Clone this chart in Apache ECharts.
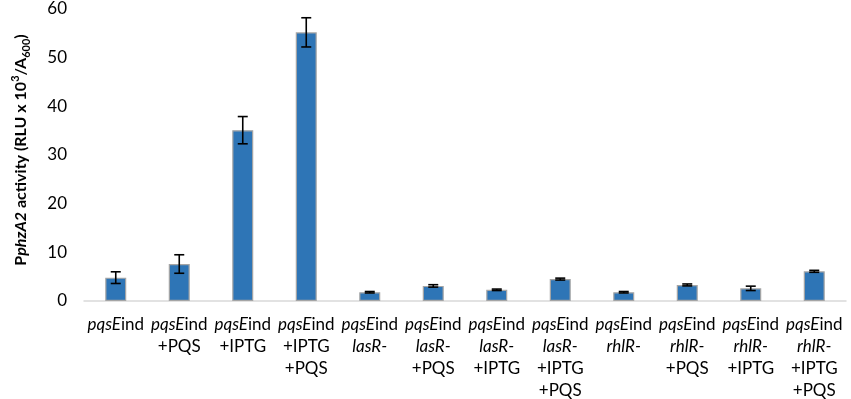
<!DOCTYPE html>
<html>
<head>
<meta charset="utf-8">
<script src="https://cdn.jsdelivr.net/npm/echarts@6/dist/echarts.min.js"></script>
<style>
html, body { margin: 0; padding: 0; background: #fff; }
#main { width: 851px; height: 399px; }
</style>
</head>
<body>
<div id="main"></div>
<script>
// strain / treatment labels, split in italic and plain parts
var strains = ['', '', '', '', 'lasR-', 'lasR-', 'lasR-', 'lasR-', 'rhlR-', 'rhlR-', 'rhlR-', 'rhlR-'];
var treatments = ['', '+PQS', '+IPTG', '+IPTG\n+PQS', '', '+PQS', '+IPTG', '+IPTG\n+PQS', '', '+PQS', '+IPTG', '+IPTG\n+PQS'];
var activity = [4.8, 7.6, 35.1, 55.2, 1.8, 3.1, 2.3, 4.5, 1.8, 3.3, 2.6, 6.1];
var errors = [1.2, 1.9, 2.8, 3.0, 0.15, 0.25, 0.15, 0.2, 0.15, 0.2, 0.45, 0.2];
var yTicks = [0, 10, 20, 30, 40, 50, 60];

var categories = strains.map(function (s, i) { return 'c' + i; });

function catLabel(v, i) {
    var txt = '{i|pqsE}{n|ind}';
    if (strains[i]) txt += '\n{i|' + strains[i] + '}';
    if (treatments[i]) {
        treatments[i].split('\n').forEach(function (t) { txt += '\n{n|' + t + '}'; });
    }
    return txt;
}

var myChart = echarts.init(document.getElementById('main'));
var font = 'Lato, "Open Sans", sans-serif';

option = {
    animation: false,
    grid: {
        left: 84,
        right: 5,
        top: 9,
        bottom: 98,
        outerBoundsMode: 'none'
    },
    xAxis: {
        type: 'category',
        data: categories,
        axisLine: { lineStyle: { color: '#d9d9d9', width: 1.5 } },
        axisTick: { show: false },
        axisLabel: {
            interval: 0,
            margin: 13,
            lineHeight: 22,
            formatter: catLabel,
            rich: {
                i: { fontStyle: 'italic', fontSize: 17, color: '#000', fontFamily: font, lineHeight: 22 },
                n: { fontSize: 17, color: '#000', fontFamily: font, lineHeight: 22 }
            }
        }
    },
    yAxis: {
        type: 'value',
        min: yTicks[0],
        max: yTicks[yTicks.length - 1],
        interval: 10,
        axisLine: { show: false },
        axisTick: { show: false },
        splitLine: { show: false },
        axisLabel: {
            margin: 17,
            fontSize: 17,
            color: '#000',
            fontFamily: font
        },
        name: '{b|P}{bi|phzA2}{b| activity (RLU x 10}{sup|3}{b|/A}{sub|600}{b|)}',
        nameLocation: 'middle',
        nameGap: 52,
        nameTextStyle: {
            padding: [0, 0, 0, 10],
            rich: {
                b: { fontSize: 16, fontWeight: 'bold', color: '#000', fontFamily: font, lineHeight: 22 },
                bi: { fontSize: 16, fontWeight: 'bold', fontStyle: 'italic', color: '#000', fontFamily: font, lineHeight: 22 },
                sup: { fontSize: 11, fontWeight: 'bold', color: '#000', fontFamily: font, verticalAlign: 'top', lineHeight: 22 },
                sub: { fontSize: 11, fontWeight: 'bold', color: '#000', fontFamily: font, verticalAlign: 'bottom', lineHeight: 22 }
            }
        }
    },
    series: [
        {
            type: 'bar',
            data: activity,
            barWidth: 21,
            itemStyle: {
                color: '#2e75b6',
                borderColor: '#a5a5a5',
                borderWidth: 1.2
            }
        },
        {
            type: 'custom',
            data: activity.map(function (v, i) { return [i, v - errors[i], v + errors[i]]; }),
            z: 10,
            renderItem: function (params, api) {
                var lo = api.coord([api.value(0), api.value(1)]);
                var hi = api.coord([api.value(0), api.value(2)]);
                var hw = 5;
                var st = { stroke: '#000', lineWidth: 1.6 };
                return {
                    type: 'group',
                    children: [
                        { type: 'line', shape: { x1: lo[0], y1: lo[1], x2: hi[0], y2: hi[1] }, style: st },
                        { type: 'line', shape: { x1: lo[0] - hw, y1: lo[1], x2: lo[0] + hw, y2: lo[1] }, style: st },
                        { type: 'line', shape: { x1: hi[0] - hw, y1: hi[1], x2: hi[0] + hw, y2: hi[1] }, style: st }
                    ]
                };
            }
        }
    ]
};
myChart.setOption(option);
</script>
</body>
</html>
